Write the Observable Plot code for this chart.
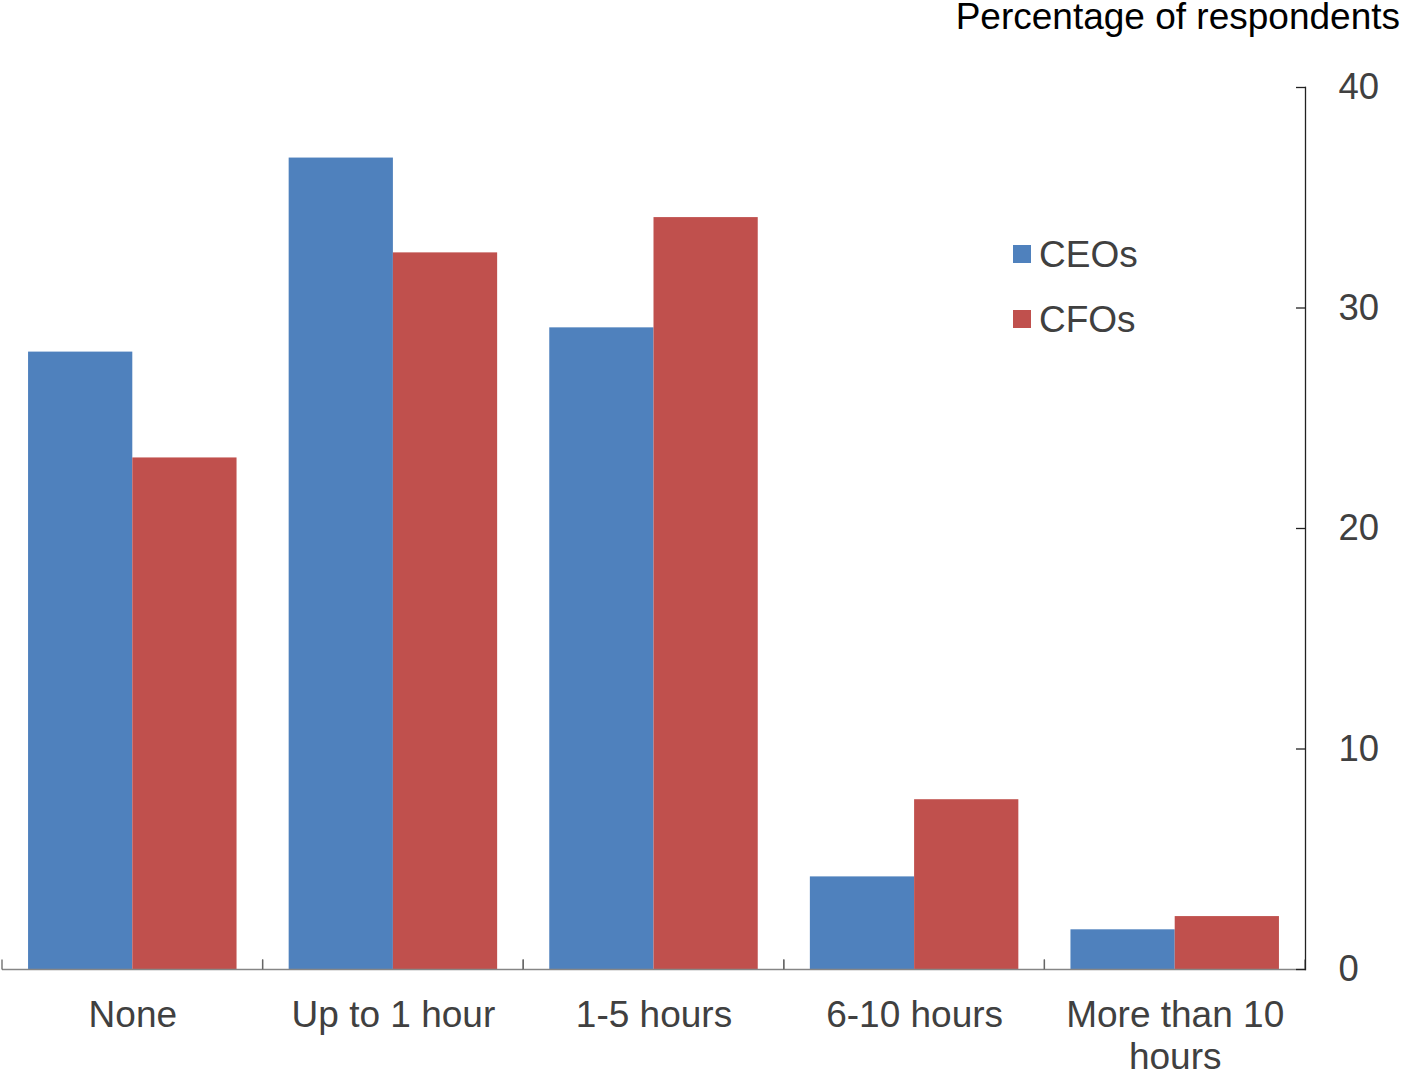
<!DOCTYPE html>
<html>
<head>
<meta charset="utf-8">
<script src="https://cdn.jsdelivr.net/npm/d3@7"></script>
<script src="https://cdn.jsdelivr.net/npm/@observablehq/plot@0.6"></script>
<style>
  html, body { margin: 0; padding: 0; background: #fff; }
  #wrap { position: relative; width: 1402px; height: 1071px; font-family: "Liberation Sans", Arial, sans-serif; }
  #title { position: absolute; right: 2px; top: -2px; font-size: 37px; line-height: 37px; color: #000; white-space: nowrap; }
  #legend { position: absolute; left: 1013px; top: 235.5px; }
  .row { display: flex; align-items: center; height: 37px; margin-bottom: 28px; font-size: 37px; line-height: 37px; color: #404040; }
  .sw { width: 18px; height: 18px; margin-right: 8px; }
  svg { display: block; }
</style>
</head>
<body>
<div id="wrap">
  <div id="chart"></div>
  <div id="title"></div>
  <div id="legend"></div>
</div>
<script>
const categories = ["None", "Up to 1 hour", "1-5 hours", "6-10 hours", "More than 10 hours"];
const tickLabels = ["None", "Up to 1 hour", "1-5 hours", "6-10 hours", "More than 10\nhours"];
const seriesNames = ["CEOs", "CFOs"];
const seriesColors = ["#4F81BD", "#C0504D"];
const ceos = [28.0, 36.8, 29.1, 4.2, 1.8];
const cfos = [23.2, 32.5, 34.1, 7.7, 2.4];
const yTicks = [0, 10, 20, 30, 40];
const yTitle = "Percentage of respondents";

const data = [];
categories.forEach((c, i) => {
  data.push({category: c, series: seriesNames[0], value: ceos[i]});
  data.push({category: c, series: seriesNames[1], value: cfos[i]});
});
const labelOf = new Map(categories.map((c, i) => [c, tickLabels[i]]));

const plot = Plot.plot({
  width: 1402,
  height: 1071,
  marginTop: 87,
  marginBottom: 102,
  marginLeft: 2,
  marginRight: 97,
  style: {fontFamily: "Liberation Sans, Arial, sans-serif", background: "#fff"},
  fx: {domain: categories, padding: 0, round: false, label: null},
  x: {domain: seriesNames, paddingInner: 0, paddingOuter: 0.25, round: false, axis: null},
  y: {domain: [0, 40], label: null},
  color: {domain: seriesNames, range: seriesColors},
  marks: [
    Plot.barY(data, {fx: "category", x: "series", y: "value", fill: "series"}),
    Plot.ruleY([0], {
      stroke: "#868686",
      strokeWidth: 1.3,
      render(index, scales, values, dims, context, next) {
        const g = next(index, scales, values, dims, context);
        const y0 = scales.y(0);
        const edges = [dims.marginLeft, dims.width - dims.marginRight];
        for (const ex of edges) {
          d3.select(g).append("line")
            .attr("x1", ex).attr("x2", ex)
            .attr("y1", y0).attr("y2", y0 - 10)
            .attr("stroke", "#666").attr("stroke-width", 1.3);
        }
        return g;
      }
    }),
    Plot.axisFx({
      anchor: "bottom",
      tickSize: 0,
      tickPadding: 27,
      fontSize: 37,
      lineHeight: 1.15,
      fill: "#404040",
      tickFormat: (d) => labelOf.get(d),
      label: null
    }),
    Plot.frame({anchor: "right", facetAnchor: "right", stroke: "#222", strokeWidth: 1.3}),
    Plot.axisY({
      anchor: "right",
      ticks: yTicks,
      tickSize: -10,
      text: null,
      stroke: "#222",
      strokeWidth: 1.3,
      label: null
    }),
    Plot.axisY({
      anchor: "right",
      ticks: yTicks,
      tickSize: 0,
      tickPadding: 33,
      fontSize: 36.5,
      fill: "#404040",
      label: null
    })
  ]
});

document.getElementById("chart").appendChild(plot);
document.getElementById("title").textContent = yTitle;

const legend = document.getElementById("legend");
seriesNames.forEach((s, i) => {
  const row = document.createElement("div");
  row.className = "row";
  const sw = document.createElement("div");
  sw.className = "sw";
  sw.style.background = seriesColors[i];
  const t = document.createElement("span");
  t.textContent = s;
  row.appendChild(sw);
  row.appendChild(t);
  legend.appendChild(row);
});
</script>
</body>
</html>
